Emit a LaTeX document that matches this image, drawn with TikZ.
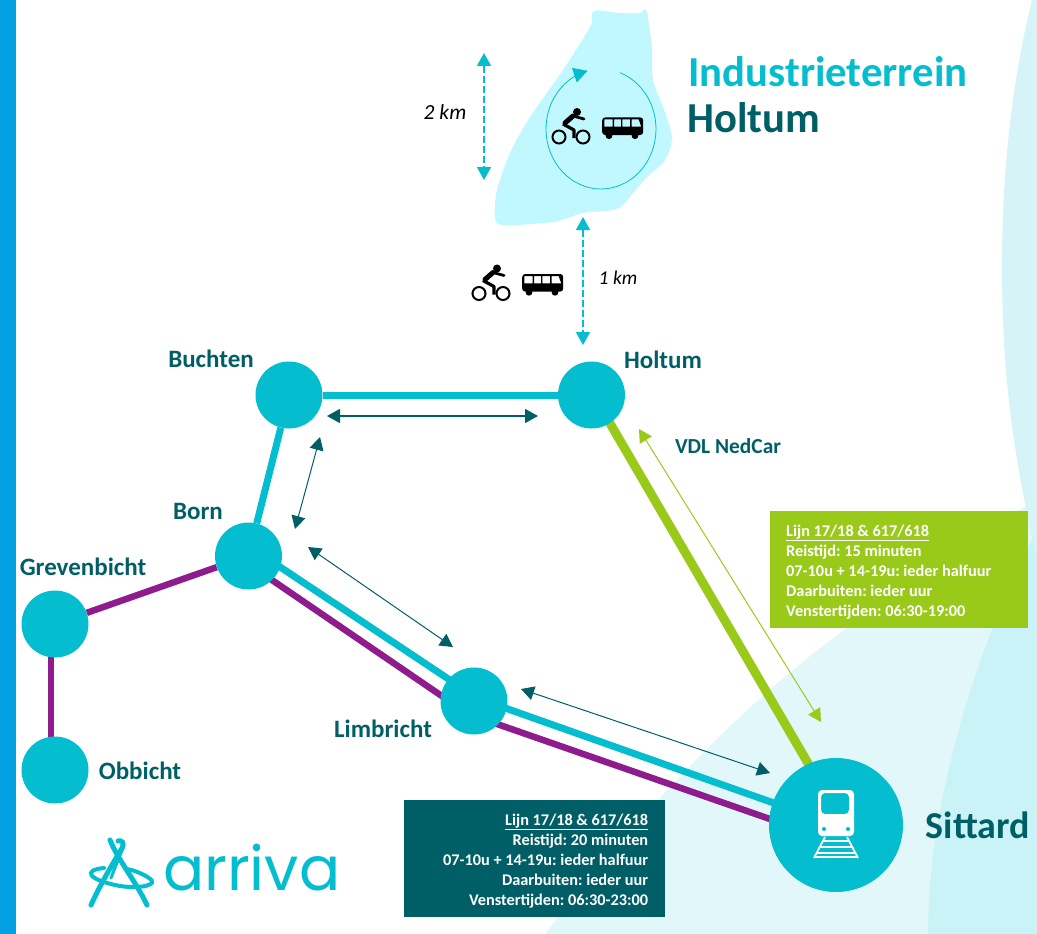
\documentclass[tikz,border=0pt]{standalone}
\usepackage{fontspec}
\setmainfont{Carlito}
\newfontfamily\logofont{Poppins}
\usetikzlibrary{arrows.meta}
\usetikzlibrary{backgrounds}
\definecolor{stopcol}{HTML}{04BDCE}
\definecolor{darkcol}{HTML}{005F66}
\definecolor{limecol}{HTML}{99CA1A}
\definecolor{plumcol}{HTML}{8E1C8C}
\definecolor{barcol}{HTML}{00A0E3}
\definecolor{blobcol}{HTML}{C1F8FF}
\definecolor{palecol}{HTML}{E1F7FA}
\definecolor{midcol}{HTML}{C9F3F7}
\definecolor{edgecol}{HTML}{D6F3F7}
\newcommand{\tightwords}{\spaceskip = 0.226em\xspaceskip = 0.226em\rule{0pt}{15.6pt}}
\tikzset{stop/.style = {fill = stopcol, circle, inner sep = 0, minimum size = 67}}
\tikzset{bigstop/.style = {stop, minimum size = 134}}
\tikzset{place/.style = {text = darkcol, font = \fontsize{25}{27}\selectfont\bfseries}}
\tikzset{dist/.style = {font = \fontsize{19.5}{22}\selectfont\itshape}}
\tikzset{tealline/.style = {stopcol, line width = 7}}
\tikzset{plumline/.style = {plumcol, line width = 6.5}}
\tikzset{limeline/.style = {limecol, line width = 9}}
\tikzset{both/.style = {darkcol, line width = 1, {Triangle[length = 13, width = 14]}-{Triangle[length = 13, width = 14]}}}
\tikzset{limeboth/.style = {both, limecol}}
\tikzset{span/.style = {stopcol, line width = 1.5, dash pattern = on 7 off 3, {Triangle[length = 13, width = 14]}-{Triangle[length = 13, width = 14]}}}
\tikzset{logoband/.style = {stopcol, line width = 5, line cap = round}}
\tikzset{logoring/.style = {stopcol, line width = 4, line cap = round}}
\tikzset{infobox/.style = {text = white, inner sep = 0, minimum height = 117,
                           font = \fontsize{16.3}{20}\selectfont\bfseries}}
\tikzset{bikeicon/.pic = {
  \draw [line width = 2] (-12, 0) circle (6.5);
  \draw [line width = 2] (12, 0) circle (6.5);
  \fill (6, -25) circle (4);
  \draw [line width = 5, line cap = round] (2, -21) -- (-6, -14);
  \draw [line width = 2.8, line cap = round] (2, -21) -- (13, -18);
  \draw [line width = 3.2, line join = round] (-8, -13) -- (3, -7) -- (3, 1);}}
\tikzset{busicon/.pic = {
  \fill [even odd rule] [rounded corners = 3] (-20.5, -9.3) rectangle (20.5, 8.3)
    [sharp corners] (-18.3, -7.3) rectangle (-10, 0) (-8.7, -7.3) rectangle (-1.7, 0)
    (-0.3, -7.3) rectangle (7.3, 0) (9, -7.3) -- (16, -7.3) -- (18.5, 0) -- (9, 0) -- cycle;
  \fill (-13.7, 9) circle (3.4);
  \fill (12.3, 9) circle (3.4);}}
\tikzset{trainicon/.pic = {
  \fill [white, even odd rule] [rounded corners = 4] (-18, -35) rectangle (18, 11)
    (-15, -32) rectangle (13, -11) [sharp corners] (-12, 4) circle (2.2) (12, 4) circle (2.2);
  \draw [white, line width = 1.8] (-11, 12) -- (-22, 33) (11, 12) -- (22, 33);
  \draw [white, line width = 1.6] (-14, 16) -- (14, 16) (-16, 22) -- (16, 22) (-19, 28) -- (19, 28) (-21, 32) -- (21, 32);}}

\begin{document}
\begin{tikzpicture}[x = 1pt, y = -1pt]
  \useasboundingbox (0, 0) rectangle (1037, 934);
  % stations
  \node [stop] (buchten) at (289, 395) {};
  \node [stop] (holtum) at (591.5, 395) {};
  \node [stop] (born) at (248.5, 556) {};
  \node [stop] (grevenbicht) at (55, 624) {};
  \node [stop] (obbicht) at (55, 770) {};
  \node [stop] (limbricht) at (474, 701) {};
  \node [bigstop] (sittard) at (836, 825) {};
  \pic at (836, 825) {trainicon};
  % backdrop and lines
  \begin{scope}[on background layer]
    \fill [palecol] (545, 934) .. controls (620, 840) and (720, 720) .. (847, 628)
      .. controls (920, 575) and (980, 530) .. (1037, 500) -- (1037, 934) -- cycle;
    \fill [midcol] (928, 934) .. controls (928, 830) and (960, 680) .. (1037, 530) -- (1037, 934) -- cycle;
    \fill [edgecol] (1032, 0) .. controls (1010, 90) and (1002, 180) .. (1002, 267)
      .. controls (1002, 370) and (1012, 450) .. (1037, 560) -- (1037, 0) -- cycle;
    \fill [barcol] (0, 0) rectangle (16, 934);
    \fill [blobcol] plot [smooth cycle, tension = 0.5] coordinates {(594, 11) (620, 13) (640, 13) (645, 9) (648, 17)
      (652, 50) (653, 80) (663, 107) (672, 137) (665, 160) (647, 177) (633, 193) (617, 209) (583, 213)
      (553, 222) (503, 225) (495, 217) (497, 190) (510, 153) (530, 117) (563, 70) (590, 27)};
    \draw [tealline] (buchten) -- (holtum);
    \draw [tealline] (buchten) -- (born);
    \draw [tealline] ([shift = {(0, -10)}]born.center) -- ([shift = {(0, -5)}]limbricht.center);
    \draw [tealline] ([shift = {(0, -4)}]limbricht.center) -- (sittard.center);
    \draw [plumline] ([shift = {(0, 8)}]born.center) -- ([shift = {(0, 17)}]limbricht.center);
    \draw [plumline] ([shift = {(0, 15)}]limbricht.center) -- ([shift = {(0, 17)}]sittard.center);
    \draw [plumline] (born) -- (grevenbicht);
    \draw [plumline] ([shift = {(-4, 0)}]grevenbicht.center) -- ([shift = {(-4, 0)}]obbicht.center);
    \draw [limeline] ([shift = {(2, 0)}]holtum.center) -- ([shift = {(8, 0)}]sittard.center);
  \end{scope}
  % names
  \node [place] (buchtenname) at (211, 359) {Buchten};
  \node [place] (holtumname) at (663, 360) {Holtum};
  \node [place] (bornname) at (198, 511) {Born};
  \node [place] (grevenname) at (83, 567) {Grevenbicht};
  \node [place] (obbichtname) at (140, 771) {Obbicht};
  \node [place] (limbrichtname) at (383, 729) {Limbricht};
  \node [place, font = \fontsize{38}{40}\selectfont\bfseries] (sittardname) at (978, 825) {Sittard};
  \node [place, font = \fontsize{21.4}{23}\selectfont\bfseries] (vdl) at (728, 446) {VDL NedCar};
  \node [font = \fontsize{42.7}{45}\selectfont\bfseries, text = stopcol] (titlea) at (828, 72) {Industrieterrein};
  \node [font = \fontsize{42.7}{45}\selectfont\bfseries, text = darkcol, anchor = west] (titleb) at (684, 118) {Holtum};
  % boxes
  \node [infobox, fill = limecol, anchor = north west, minimum width = 258, text width = 226, align = left,
         inner xsep = 16] (limebox) at (770, 511)
    {\tightwords\underline{Lijn 17/18 \& 617/618}\\Reistijd: 15 minuten\\07-10u + 14-19u: ieder halfuur\\Daarbuiten: ieder uur\\Venstertijden: 06:30-19:00};
  \node [infobox, fill = darkcol, anchor = north west, minimum width = 261, text width = 227, align = right,
         inner xsep = 17] (darkbox) at (404, 800)
    {\tightwords\underline{Lijn 17/18 \& 617/618}\\Reistijd: 20 minuten\\07-10u + 14-19u: ieder halfuur\\Daarbuiten: ieder uur\\Venstertijden: 06:30-23:00};
  % double arrows along the lines
  \coordinate (ba) at (327, 416);
  \coordinate (hb) at (538, 416);
  \coordinate (bb) at (320, 437);
  \coordinate (bc) at (295, 529);
  \coordinate (bd) at (308, 547);
  \coordinate (la) at (453, 647);
  \coordinate (lb) at (521, 689);
  \coordinate (sa) at (770, 773);
  \coordinate (ha) at (639, 429);
  \coordinate (sb) at (821, 722);
  \draw [both, line width = 1.6] (ba) -- (hb);
  \draw [both] (bb) -- (bc);
  \draw [both] (bd) -- (la);
  \draw [both] (lb) -- (sa);
  \draw [limeboth] (ha) -- (sb);
  % terrain
  \coordinate (spana) at (484, 53);
  \coordinate (spanb) at (484, 180);
  \coordinate (spanc) at (583, 217);
  \coordinate (spand) at (583, 345);
  \draw [span] (spana) -- (spanb);
  \draw [span] (spanc) -- (spand);
  \node [dist, font = \fontsize{21.5}{24}\selectfont\itshape] (twokm) at (445, 112) {2 km};
  \node [dist] (onekm) at (618, 278) {1 km};
  \draw [stopcol, line width = 0.8, -{Triangle[length = 14, width = 15]}]
    plot [domain = -70:256, samples = 60] ({601 + 55 * cos(\x)}, {129 + 60 * sin(\x)});
  \pic at (571, 137) {bikeicon};
  \pic at (622.7, 126.7) {busicon};
  \pic at (491, 293.5) {bikeicon};
  \pic at (542.7, 283.3) {busicon};
  % logo
  \draw [logoband] (91, 905) .. controls (100, 885) and (112, 865) .. (122, 848) .. controls (125, 842) and (121, 840) .. (118, 841);
  \draw [logoband] (147, 905) .. controls (135, 880) and (118, 860) .. (110, 840);
  \draw [stopcol, line width = 3, line cap = round] (111, 878) .. controls (116, 865) and (120, 855) .. (124, 846);
  \draw [logoring] (104, 868) .. controls (82, 870) and (88, 880) .. (120, 886) .. controls (140, 889) and (160, 885) .. (149, 878)
    .. controls (143, 874) and (134, 870) .. (126, 869);
  \node [stopcol, font = \fontsize{61}{62}\selectfont\logofont, anchor = base west, inner sep = 0] (arriva) at (163, 890) {arriva};
\end{tikzpicture}
\end{document}
